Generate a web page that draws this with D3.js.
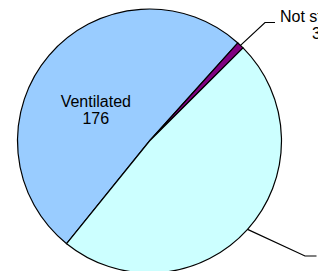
<!DOCTYPE html>
<html>
<head>
<meta charset="utf-8">
<script src="https://cdn.jsdelivr.net/npm/d3@7"></script>
<style>
  html, body { margin: 0; padding: 0; background: #fff; overflow: hidden; }
  svg { display: block; }
</style>
</head>
<body>
<div id="chart"></div>
<script>
const categories = ["Ventilated", "Not stated", "Not ventilated"];
const values = [176, 3, 167];
const sliceColors = ["#99ccff", "#800080", "#ccffff"];

// svg narrower than the window: the plot area clips the right-hand labels
const svg = d3
  .select("#chart")
  .append("svg")
  .attr("width", 318)
  .attr("height", 271);

const cx = 149.5;
const cy = 141;
const radius = 132;
const font = "'Liberation Sans', Arial, sans-serif";

const pie = d3
  .pie()
  .sort(null)
  .value((d) => d)
  .startAngle((218.9 * Math.PI) / 180)
  .endAngle((218.9 * Math.PI) / 180 + 2 * Math.PI);

const arcs = pie(values);
const arc = d3.arc().innerRadius(0).outerRadius(radius);
const rim = d3.arc().innerRadius(radius).outerRadius(radius);

const g = svg.append("g").attr("transform", `translate(${cx},${cy})`);

g.selectAll("path")
  .data(arcs)
  .enter()
  .append("path")
  .attr("d", arc)
  .attr("fill", (d, i) => sliceColors[i])
  .attr("stroke", "#000")
  .attr("stroke-width", 1.2)
  .attr("stroke-linejoin", "round");

// label placement per slice (inside / leader line)
const labelLayout = [
  { inside: true, x: 95.8, y: 106.7 },
  { elbow: [265, 22.5], end: [275, 22.5], x: 316.4, y: 21.7, anchor: "middle" },
  { elbow: [305, 256], end: [316.5, 256], x: 321, y: 251, anchor: "start" },
];

arcs.forEach((d, i) => {
  const lay = labelLayout[i];
  if (!lay.inside) {
    const p = rim.centroid(d);
    svg
      .append("polyline")
      .attr(
        "points",
        [[p[0] + cx, p[1] + cy], lay.elbow, lay.end].map((q) => q.join(",")).join(" ")
      )
      .attr("fill", "none")
      .attr("stroke", "#000")
      .attr("stroke-width", 1.2);
  }
  const t = svg
    .append("text")
    .attr("x", lay.x)
    .attr("y", lay.y)
    .attr("text-anchor", lay.anchor || "middle")
    .attr("font-family", font)
    .attr("font-size", 16)
    .attr("fill", "#000");
  t.append("tspan").attr("x", lay.x).text(categories[i]);
  t.append("tspan").attr("x", lay.x).attr("dy", 17.5).text(values[i]);
});
</script>
</body>
</html>
